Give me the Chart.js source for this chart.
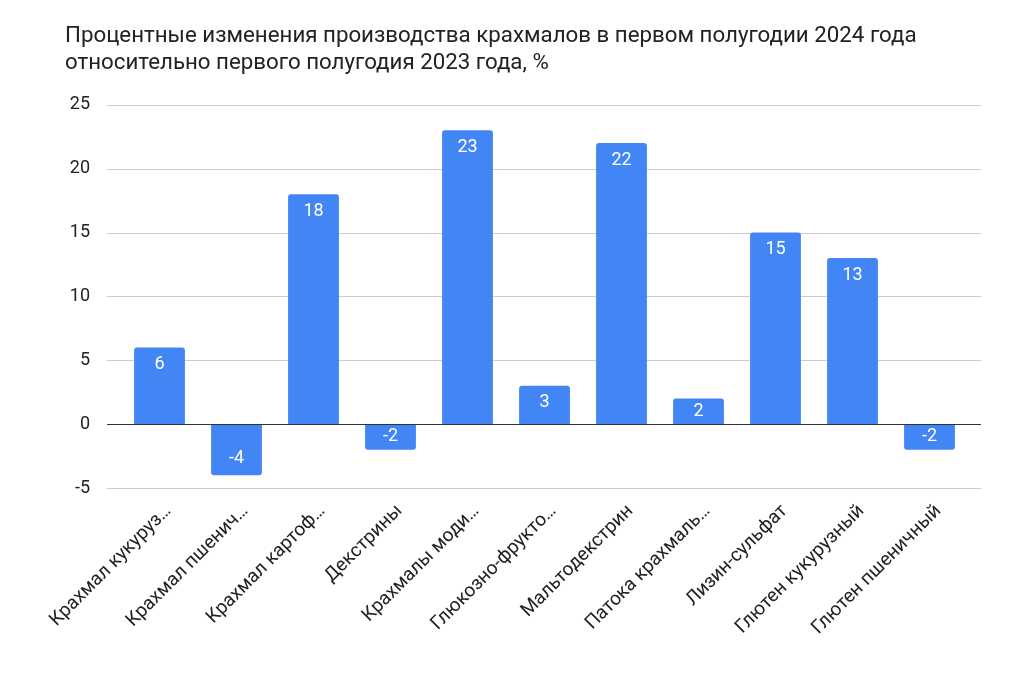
<!DOCTYPE html>
<html>
<head>
<meta charset="utf-8">
<script src="https://cdn.jsdelivr.net/npm/chart.js@4"></script>
<style>
  html, body { margin: 0; padding: 0; background: #fff; }
  #wrap { width: 1024px; height: 676px; }
</style>
</head>
<body>
<div id="wrap"><canvas id="myChart" width="1024" height="676"></canvas></div>
<script>
// data
let chart_labels = ['Крахмал кукуруз…', 'Крахмал пшенич…', 'Крахмал картоф…', 'Декстрины', 'Крахмалы моди…',
    'Глюкозно-фрукто…', 'Мальтодекстрин', 'Патока крахмаль…', 'Лизин-сульфат', 'Глютен кукурузный', 'Глютен пшеничный'];
let chart_values = [6, -4, 18, -2, 23, 3, 22, 2, 15, 13, -2];
let y_min = -5;
let y_max = 25;
let y_step = 5;
let chart_title = ['Процентные изменения производства крахмалов в первом полугодии 2024 года',
    'относительно первого полугодия 2023 года, %'];

Chart.defaults.font.family = 'Roboto, Arial, sans-serif';

// grid lines go a bit past the bars on both sides, like the sheets chart
const wide_grid = {
    id: 'wide_grid',
    beforeDatasetsDraw(chart) {
        const ctx = chart.ctx;
        const area = chart.chartArea;
        const y = chart.scales.y;
        ctx.save();
        y.ticks.forEach(t => {
            const py = Math.round(y.getPixelForValue(t.value)) + 0.5;
            ctx.beginPath();
            ctx.strokeStyle = t.value === 0 ? '#333333' : '#cccccc';
            ctx.lineWidth = 1;
            ctx.moveTo(area.left - 14, py);
            ctx.lineTo(area.right + 13, py);
            ctx.stroke();
        });
        ctx.restore();
    },
    afterDatasetsDraw(chart) {
        // zero line sits above bars
        const ctx = chart.ctx;
        const area = chart.chartArea;
        const py = Math.round(chart.scales.y.getPixelForValue(0)) + 0.5;
        ctx.save();
        ctx.beginPath();
        ctx.strokeStyle = '#333333';
        ctx.moveTo(area.left - 14, py);
        ctx.lineTo(area.right + 13, py);
        ctx.stroke();
        ctx.restore();
    }
};

const bar_values = {
    id: 'bar_values',
    afterDatasetsDraw(chart) {
        const ctx = chart.ctx;
        const meta = chart.getDatasetMeta(0);
        ctx.save();
        ctx.font = '18px Roboto, Arial, sans-serif';
        ctx.fillStyle = '#ffffff';
        ctx.textAlign = 'center';
        ctx.textBaseline = 'middle';
        meta.data.forEach((bar, i) => {
            const v = chart_values[i];
            const h = Math.abs(bar.base - bar.y);
            let off = Math.min(17, h / 2);
            if (v < 0) off = -off;
            ctx.fillText(String(v), bar.x, bar.y + off);
        });
        ctx.restore();
    }
};

const ctx = document.getElementById('myChart').getContext('2d');
const myChart = new Chart(ctx, {
    type: 'bar',
    data: {
        labels: chart_labels,
        datasets: [{
            data: chart_values,
            backgroundColor: '#4285f4',
            borderRadius: 3,
            borderSkipped: 'start',
            categoryPercentage: 1,
            barPercentage: 0.66
        }]
    },
    options: {
        responsive: false,
        animation: false,
        layout: { padding: { left: 65, right: 56, top: 22, bottom: 0 } },
        plugins: {
            legend: { display: false },
            tooltip: { enabled: false },
            title: {
                display: true,
                text: chart_title,
                align: 'start',
                color: '#222222',
                font: { size: 22.3, weight: 'normal', lineHeight: 1.25 },
                padding: { top: 0, bottom: 27 }
            }
        },
        scales: {
            x: {
                grid: { display: false },
                border: { display: false },
                ticks: {
                    autoSkip: false,
                    maxRotation: 45,
                    minRotation: 45,
                    labelOffset: 9,
                    color: '#222222',
                    font: { size: 19 },
                    padding: 4
                },
                afterFit(scale) { scale.height = 188; }
            },
            y: {
                min: y_min,
                max: y_max,
                grid: { display: false },
                border: { display: false },
                ticks: {
                    stepSize: y_step,
                    color: '#222222',
                    font: { size: 18 },
                    padding: 23
                },
                afterFit(scale) { scale.width = 56; }
            }
        }
    },
    plugins: [wide_grid, bar_values]
});
</script>
</body>
</html>
